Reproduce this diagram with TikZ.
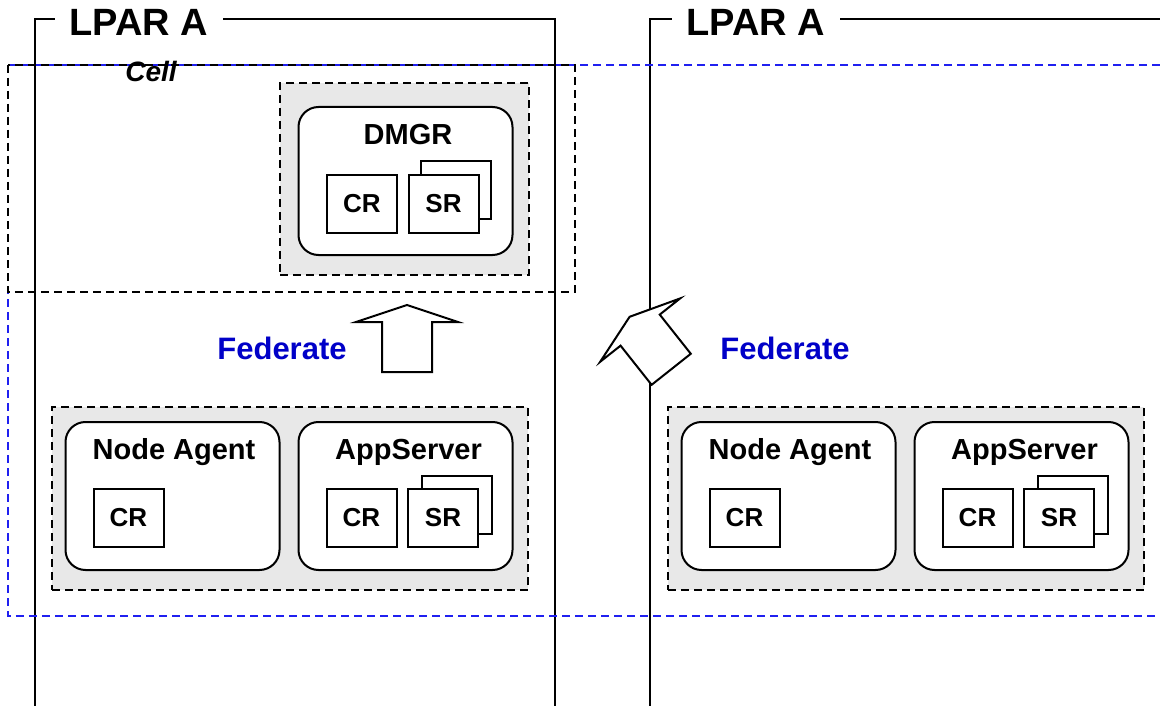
\documentclass[tikz,border=0pt]{standalone}
\usepackage{fontspec}
\setmainfont{Liberation Sans}
\definecolor{grpgray}{HTML}{E8E8E8}
\definecolor{cellblue}{HTML}{2020F0}
\definecolor{fedblue}{HTML}{0000C8}
\begin{document}
\begin{tikzpicture}[x=1pt,y=-1pt,
  frame/.style={draw=black,line width=2pt},
  lpar/.style={fill=white,inner xsep=15pt,inner ysep=3pt,anchor=base,font=\fontsize{38}{42}\selectfont\bfseries},
  celldash/.style={draw=cellblue,line width=2pt,dash pattern=on 8pt off 5pt},
  blkdash/.style={draw=black,line width=2pt,dash pattern=on 8pt off 5pt},
  grp/.style={draw=black,fill=grpgray,line width=2pt,dash pattern=on 8pt off 5pt,minimum width=#1,minimum height=183pt,inner sep=0pt},
  proc/.style={draw=black,fill=white,line width=2pt,rounded corners=20pt,minimum width=214pt,minimum height=148pt,inner sep=0pt},
  reg/.style={draw=black,fill=white,line width=2pt,minimum width=70pt,minimum height=58pt,inner sep=0pt,font=\fontsize{26}{28}\selectfont\bfseries},
  ptitle/.style={anchor=base,inner sep=0pt,font=\fontsize{29}{32}\selectfont\bfseries},
  fedlabel/.style={anchor=base,inner sep=0pt,text=fedblue,font=\fontsize{31}{34}\selectfont\bfseries},
  fedarrow/.style={draw=black,fill=white,line width=2pt,line join=miter}
]
\useasboundingbox (0,0) rectangle (1160,706);
\clip (0,0) rectangle (1160,706);
\fill[white] (0,0) rectangle (1160,706);

% LPAR frames
\draw[frame] (35,720) -- (35,19) -- (555,19) -- (555,720);
\draw[frame] (650,720) -- (650,19) -- (1190,19);
\node[lpar] (lparL) at (139,36) {LPAR A};
\node[lpar] (lparR) at (756,36) {LPAR A};

% Cell
\draw[celldash] (8,65) rectangle (1190,616);
\draw[blkdash] (8,65) rectangle (575,292);
\node[anchor=base,inner sep=0pt,font=\fontsize{28}{32}\selectfont\bfseries\itshape] (cell) at (151,82) {Cell};

% DMGR group
\node[grp=249pt,minimum height=192pt] (dmgrgrp) at (404.5,179) {};
\node[proc] (dmgr) at (405.5,181) {};
\node[ptitle] (dmgrt) at (408,145) {DMGR};
\node[reg] (dcr) at (362,204) {CR};
\node[reg] (dsrb) at (456,190) {};
\node[reg] (dsr) at (443.5,204) {SR};

% Left node group
\node[grp=476pt] (lgrp) at (290,498.5) {};
\node[proc] (lna) at (172.5,496) {};
\node[ptitle] (lnat) at (174,459) {Node Agent};
\node[reg] (lnacr) at (128.5,518) {CR};
\node[proc] (las) at (405.5,496) {};
\node[ptitle] (last) at (408.5,459) {AppServer};
\node[reg] (lascr) at (361.5,518) {CR};
\node[reg] (lassrb) at (456.5,504.5) {};
\node[reg] (lassr) at (443,518) {SR};

% Right node group
\node[grp=476pt] (rgrp) at (906,498.5) {};
\node[proc] (rna) at (788.5,496) {};
\node[ptitle] (rnat) at (790,459) {Node Agent};
\node[reg] (rnacr) at (744.5,518) {CR};
\node[proc] (ras) at (1021.5,496) {};
\node[ptitle] (rast) at (1024.5,459) {AppServer};
\node[reg] (rascr) at (977.5,518) {CR};
\node[reg] (rassrb) at (1072.5,504.5) {};
\node[reg] (rassr) at (1059,518) {SR};

% Federate arrows
\draw[fedarrow,shift={(407,372)}] (-25,0) -- (-25,-50) -- (-51,-50) -- (0,-67) -- (51,-50) -- (25,-50) -- (25,0) -- cycle;
\draw[fedarrow,shift={(671.2,369.3)},rotate=38.4] (-25,0) -- (-25,-50) -- (-51,-50) -- (0,-67) -- (51,-50) -- (25,-50) -- (25,0) -- cycle;
\node[fedlabel] (fedL) at (282,359) {Federate};
\node[fedlabel] (fedR) at (785,359) {Federate};
\end{tikzpicture}
\end{document}
